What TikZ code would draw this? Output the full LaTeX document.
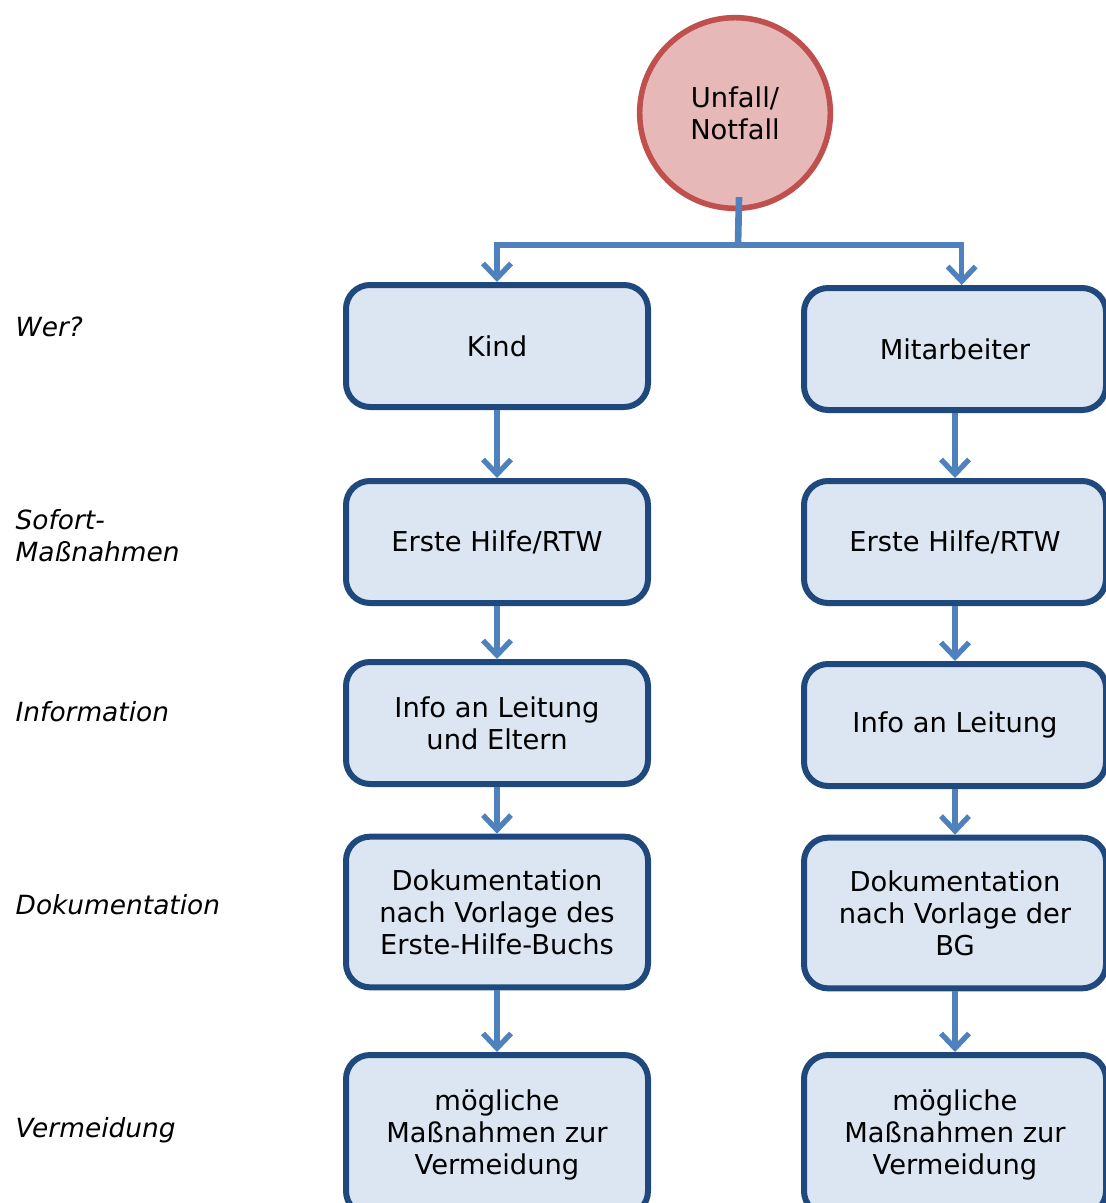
\documentclass[tikz,border=0pt]{standalone}
\usepackage{fontspec}
\setmainfont{DejaVu Sans}
\usetikzlibrary{arrows.meta}
\definecolor{rotrand}{HTML}{C0504D}
\definecolor{rotfuell}{HTML}{E6B9B8}
\definecolor{blaurand}{HTML}{1F497D}
\definecolor{blaufuell}{HTML}{DCE6F2}
\definecolor{pfeilblau}{HTML}{4F81BD}
\begin{document}
\begin{tikzpicture}[ x=0.75pt, y=-0.75pt,
		kasten/.style={draw=blaurand, fill=blaufuell, line width=4.5pt, rounded corners=18pt,
			minimum width=226.5pt, align=center, font=\fontsize{20.5}{24}\selectfont},
		kreis/.style={circle, draw=rotrand, fill=rotfuell, line width=4.2pt,
			minimum size=143pt, align=center, font=\fontsize{20.5}{24}\selectfont},
		ebene/.style={anchor=west, align=left, font=\fontsize{19.8}{24}\selectfont\itshape},
		pfeil/.style={draw=pfeilblau, line width=4pt, -{Straight Barb[length=11pt,width=21pt]}}]
			\useasboundingbox (0,0) rectangle (1106,1203);
			%Noeuds du diagramme
			\node[kreis] (Unfall) at (735,113) {Unfall/\\Notfall};
			\node[kasten, minimum height=91.5pt] (Kind) at (497,346) {Kind};
			\node[kasten, minimum height=91.5pt] (Mitarb) at (955,349) {Mitarbeiter};
			\node[kasten, minimum height=91.5pt] (HilfeK) at (497,542) {Erste Hilfe/RTW};
			\node[kasten, minimum height=91.5pt] (HilfeM) at (955,542) {Erste Hilfe/RTW};
			\node[kasten, minimum height=91.5pt] (InfoK) at (497,723) {Info an Leitung\\und Eltern};
			\node[kasten, minimum height=91.5pt] (InfoM) at (955,725) {Info an Leitung};
			\node[kasten, minimum height=113pt] (DokuK) at (497,912) {Dokumentation\\nach Vorlage des\\Erste-Hilfe-Buchs};
			\node[kasten, minimum height=113pt] (DokuM) at (955,913) {Dokumentation\\nach Vorlage der\\BG};
			\node[kasten, minimum height=120pt] (VermK) at (497,1135) {mögliche\\Maßnahmen zur\\Vermeidung};
			\node[kasten, minimum height=120pt] (VermM) at (955,1135) {mögliche\\Maßnahmen zur\\Vermeidung};
			%Ebenen
			\node[ebene] (Wer) at (11,327) {Wer?};
			\node[ebene] (Sofort) at (11,536) {Sofort-\\Maßnahmen};
			\node[ebene] (Info) at (11,712) {Information};
			\node[ebene] (Doku) at (11,905) {Dokumentation};
			\node[ebene] (Verm) at (11,1130) {Vermeidung};
			\coordinate (Teilung) at (738,245);
			%Pfeile
			\draw[draw=pfeilblau, line width=5pt] ([xshift=3]Unfall.south) ++(0,-14) -- (Teilung);
			\draw[pfeil] (Teilung) -| (Kind.north);
			\draw[pfeil] (Teilung) -| ([xshift=5]Mitarb.north);
			\draw[pfeil] (Kind) -- (HilfeK);
			\draw[pfeil] (Mitarb) -- (HilfeM);
			\draw[pfeil] (HilfeK) -- (InfoK);
			\draw[pfeil] (HilfeM) -- (InfoM);
			\draw[pfeil] (InfoK) -- (DokuK);
			\draw[pfeil] (InfoM) -- (DokuM);
			\draw[pfeil] (DokuK) -- (VermK);
			\draw[pfeil] (DokuM) -- (VermM);
		\end{tikzpicture}
\end{document}
